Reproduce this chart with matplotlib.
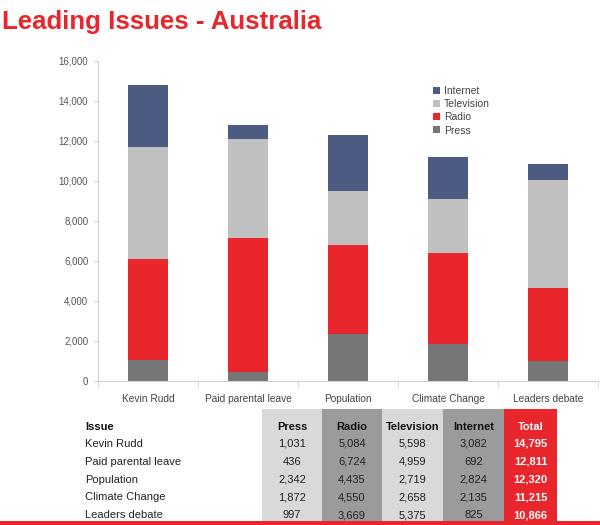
import matplotlib
matplotlib.use("Agg")
import matplotlib.pyplot as plt
from matplotlib.patches import Rectangle

plt.rcParams['font.family'] = ['Liberation Sans', 'DejaVu Sans']

issues = ["Kevin Rudd", "Paid parental leave", "Population", "Climate Change", "Leaders debate"]
press = [1031, 436, 2342, 1872, 997]
radio = [5084, 6724, 4435, 4550, 3669]
television = [5598, 4959, 2719, 2658, 5375]
internet = [3082, 692, 2824, 2135, 825]
totals = [14795, 12811, 12320, 11215, 10866]
series_names = ["Press", "Radio", "Television", "Internet"]
yticks = [0, 2000, 4000, 6000, 8000, 10000, 12000, 14000, 16000]

colors = {"Press": "#767676", "Radio": "#e8262b", "Television": "#c0c0c0", "Internet": "#4b5b82"}
RED = "#e8262b"

fig = plt.figure(figsize=(6, 5.25), dpi=100)

# Title
fig.text(2/600, 1 - 22/525, "Leading Issues - Australia", color=RED, fontsize=18.6,
         fontweight='bold', ha='left', va='center')

# Chart axes
ax = fig.add_axes([98/600, 1 - 381/525, 500/600, 320/525])
x = list(range(len(issues)))
bottom = [0]*len(issues)
handles = {}
for name, vals in zip(series_names, [press, radio, television, internet]):
    h = ax.bar(x, vals, width=0.4, bottom=bottom, color=colors[name], label=name, zorder=2)
    handles[name] = h
    bottom = [b + v for b, v in zip(bottom, vals)]

ax.set_xlim(-0.5, len(issues) - 0.5)
ax.set_ylim(0, 16000)
ax.set_yticks(yticks)
ax.set_yticklabels([f"{v:,}" for v in yticks])
ax.set_xticks(x)
ax.set_xticklabels(issues)
ax.set_xticks([i - 0.5 for i in range(len(issues) + 1)], minor=True)
for s in ["top", "right"]:
    ax.spines[s].set_visible(False)
ax.spines["left"].set_color("#d0d0d0")
ax.spines["bottom"].set_color("#d0d0d0")
ax.tick_params(axis='y', colors="#d0d0d0", labelcolor="#555555", labelsize=7, length=3, pad=4)
ax.tick_params(axis='x', which='major', length=0, labelcolor="#444444", labelsize=7.3, pad=9)
ax.tick_params(axis='x', which='minor', length=4, color="#d0d0d0")

leg_order = ["Internet", "Television", "Radio", "Press"]
leg = ax.legend([handles[n] for n in leg_order], leg_order, loc='upper left',
                bbox_to_anchor=((428 - 98)/500, (381 - 81)/320), frameon=False,
                fontsize=7.5, handlelength=0.65, handleheight=0.65, handletextpad=0.4,
                labelspacing=0.3, borderpad=0)
for t in leg.get_texts():
    t.set_color("#444444")

# Table
tax = fig.add_axes([0, 0, 1, 1], zorder=-1)
tax.set_xlim(0, 600)
tax.set_ylim(525, 0)
tax.axis('off')

col_edges = [262, 322, 382, 443, 504, 557]
col_colors = ["#d9d9d9", "#9b9b9b", "#d9d9d9", "#9b9b9b", RED]
for i in range(5):
    tax.add_patch(Rectangle((col_edges[i], 409), col_edges[i+1] - col_edges[i], 116,
                            color=col_colors[i], lw=0))
tax.add_patch(Rectangle((0, 521), 600, 4, color=RED, lw=0))

header_y = 427
row_ys = [444, 462, 480, 497, 515]
headers = series_names + ["Total"]
tax.text(85, header_y, "Issue", fontsize=8, fontweight='bold', ha='left', va='center', color="#111111")
for i, h in enumerate(headers):
    cx = (col_edges[i] + col_edges[i+1]) / 2
    tax.text(cx, header_y, h, fontsize=8, fontweight='bold', ha='center', va='center',
             color='white' if h == "Total" else "#111111")

cols = [press, radio, television, internet, totals]
for r, issue in enumerate(issues):
    tax.text(85, row_ys[r], issue, fontsize=8, ha='left', va='center', color="#222222")
    for i, col in enumerate(cols):
        cx = (col_edges[i] + col_edges[i+1]) / 2
        is_total = i == 4
        tax.text(cx, row_ys[r], f"{col[r]:,}", fontsize=8, ha='center', va='center',
                 fontweight='bold' if is_total else 'normal',
                 color='white' if is_total else "#222222")

fig.savefig("out.png", dpi=100)
